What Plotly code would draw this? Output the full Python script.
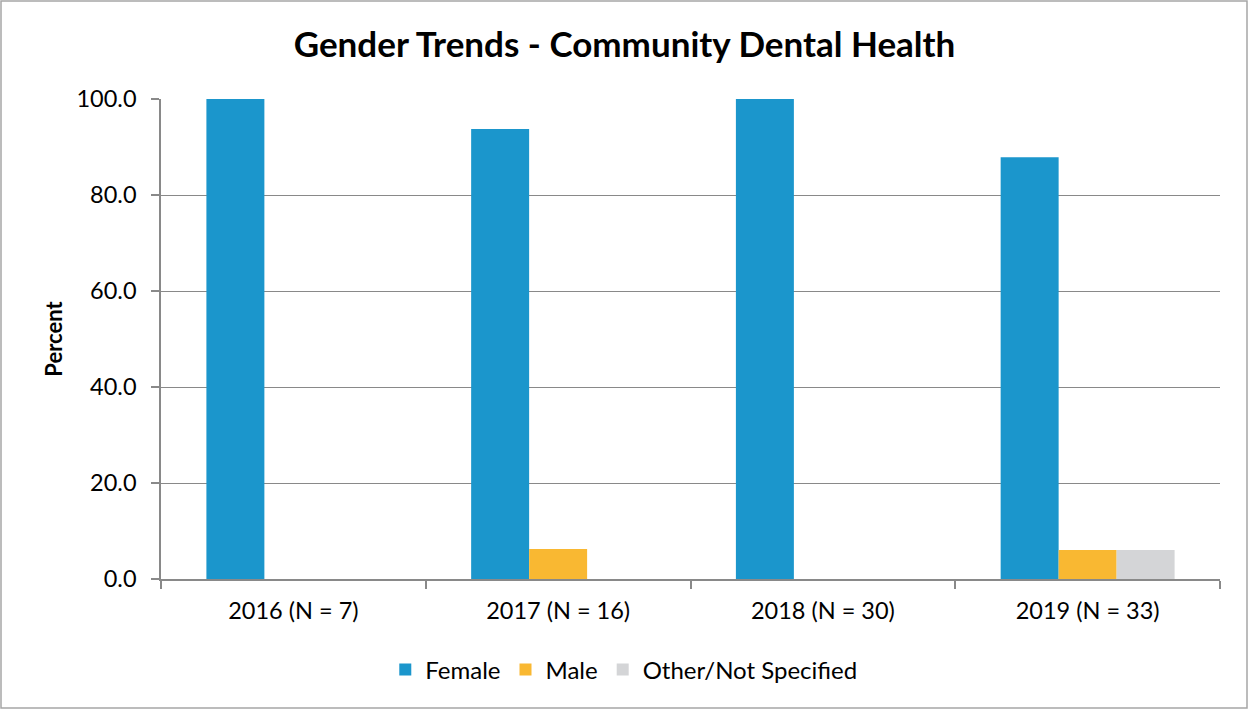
import plotly.graph_objects as go

# Category labels and percentage of students by gender
years = ["2016 (N = 7)", "2017 (N = 16)", "2018 (N = 30)", "2019 (N = 33)"]
female = [100.0, 93.75, 100.0, 87.88]
male = [0.0, 6.25, 0.0, 6.06]
other = [0.0, 0.0, 0.0, 6.06]

series = [
    ("Female", female, "#1B96CC"),
    ("Male", male, "#F9B832"),
    ("Other/Not Specified", other, "#D4D5D7"),
]

FONT = "Lato, Open Sans, sans-serif"
W, H = 1249, 710
L, R, T, B = 161, 29, 99, 131

fig = go.Figure()
for name, vals, color in series:
    fig.add_trace(go.Bar(
        x=years, y=vals, name=name,
        marker=dict(color=color, line=dict(width=0)),
    ))

fig.update_layout(
    width=W, height=H,
    margin=dict(l=L, r=R, t=T, b=B),
    paper_bgcolor="white", plot_bgcolor="white",
    barmode="group", bargap=0.343, bargroupgap=0,
    font=dict(family=FONT, color="black", size=23),
    title=dict(
        text="<b>Gender Trends - Community Dental Health</b>",
        x=0.5, xanchor="center", y=1 - 45 / H, yanchor="middle",
        font=dict(family=FONT, size=35, color="black"),
    ),
    showlegend=True,
    legend=dict(
        orientation="h", x=0.437, xanchor="center",
        y=-(670 - (H - B)) / (H - T - B), yanchor="middle",
        font=dict(family=FONT, size=24, color="black"),
        itemwidth=30, traceorder="normal",
    ),
    xaxis=dict(
        showline=True, linecolor="#898989", linewidth=1.5,
        ticks="outside", ticklen=8, tickcolor="#898989", tickwidth=1.5,
        tickson="boundaries", showgrid=False, ticklabelstandoff=10,
        tickfont=dict(family=FONT, size=23.5, color="black"),
    ),
    yaxis=dict(
        range=[0, 100], dtick=20, tickformat=".1f",
        showline=True, linecolor="#898989", linewidth=1.5,
        ticks="outside", ticklen=8, tickcolor="#898989", tickwidth=1.5,
        showgrid=True, gridcolor="#898989", gridwidth=1.3,
        zeroline=False, ticklabelstandoff=10,
        tickfont=dict(family=FONT, size=23.5, color="black"),
        title=dict(text="<b>Percent</b>", standoff=8,
                   font=dict(family=FONT, size=22, color="black")),
    ),
)

# Outer chart frame
pw, ph = W - L - R, H - T - B
fig.add_shape(
    type="rect", xref="paper", yref="paper",
    x0=-(L - 1) / pw, x1=1 + (R - 2) / pw,
    y0=-(B - 2) / ph, y1=1 + (T - 1) / ph,
    line=dict(color="#A6A6A6", width=1.5), fillcolor="rgba(0,0,0,0)",
    layer="below",
)

fig.write_html("out.html")
